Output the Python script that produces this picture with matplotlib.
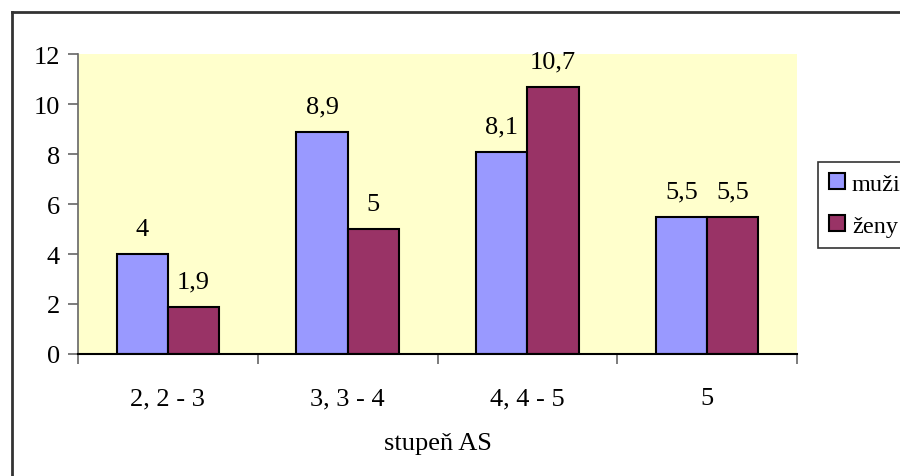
import matplotlib
matplotlib.use("Agg")
import matplotlib.pyplot as plt
from matplotlib.lines import Line2D
import numpy as np

categories = ["2, 2 - 3", "3, 3 - 4", "4, 4 - 5", "5"]
muzi = [4, 8.9, 8.1, 5.5]
zeny = [1.9, 5, 10.7, 5.5]
series_names = ["muži", "ženy"]

plt.rcParams["font.family"] = ["Liberation Serif", "DejaVu Serif"]
FS = 19

fig = plt.figure(figsize=(9, 4.77), dpi=100)
W, H = 900, 477

# outer chart border: only left and top visible, rest is cut off
bx, by = 11.5 / W, 1 - 13 / H
fig.add_artist(Line2D([bx, bx], [-0.05, by], transform=fig.transFigure,
                      color="#333333", linewidth=2))
fig.add_artist(Line2D([bx, 1.05], [by, by], transform=fig.transFigure,
                      color="#333333", linewidth=2))

ax = fig.add_axes([78 / W, 1 - 355 / H, (797 - 78) / W, (355 - 55) / H])
ax.set_facecolor("#FFFFCC")

x = np.arange(len(categories))
w = 0.285
b1 = ax.bar(x - w / 2, muzi, w, color="#9999FF", edgecolor="black",
            linewidth=1.5, label=series_names[0])
b2 = ax.bar(x + w / 2, zeny, w, color="#993366", edgecolor="black",
            linewidth=1.5, label=series_names[1])

for bars, vals in ((b1, muzi), (b2, zeny)):
    for rect, v in zip(bars, vals):
        ax.text(rect.get_x() + rect.get_width() / 2, v + 0.55,
                f"{v:g}".replace(".", ","), ha="center", va="bottom",
                fontsize=FS)

ax.set_xlim(-0.5, len(categories) - 0.5)
ax.set_ylim(0, 12)
ax.set_yticks(range(0, 13, 2))
ax.set_xticks(x)
ax.set_xticklabels(categories)
ax.set_xticks(np.arange(-0.5, len(categories)), minor=True)
ax.tick_params(axis="x", which="major", length=0, pad=24, labelsize=FS)
ax.tick_params(axis="x", which="minor", length=7, color="#666666", width=1.2)
ax.tick_params(axis="y", length=7, color="#666666", width=1.2, pad=6,
               labelsize=FS)

for s in ("top", "right"):
    ax.spines[s].set_visible(False)
ax.spines["left"].set_color("#666666")
ax.spines["left"].set_linewidth(1.2)
ax.spines["bottom"].set_color("black")
ax.spines["bottom"].set_linewidth(1.5)

ax.set_xlabel("stupeň AS", fontsize=FS, labelpad=16)

leg = ax.legend(loc="upper left", bbox_to_anchor=(818 / W, 1 - 163 / H),
                bbox_transform=fig.transFigure, fontsize=17.5, frameon=True,
                fancybox=False, edgecolor="black", handlelength=0.65,
                handleheight=0.65, handletextpad=0.3, borderpad=0.45,
                labelspacing=0.85, borderaxespad=0)
leg.get_frame().set_linewidth(1.2)

fig.savefig("out.png", dpi=100)
